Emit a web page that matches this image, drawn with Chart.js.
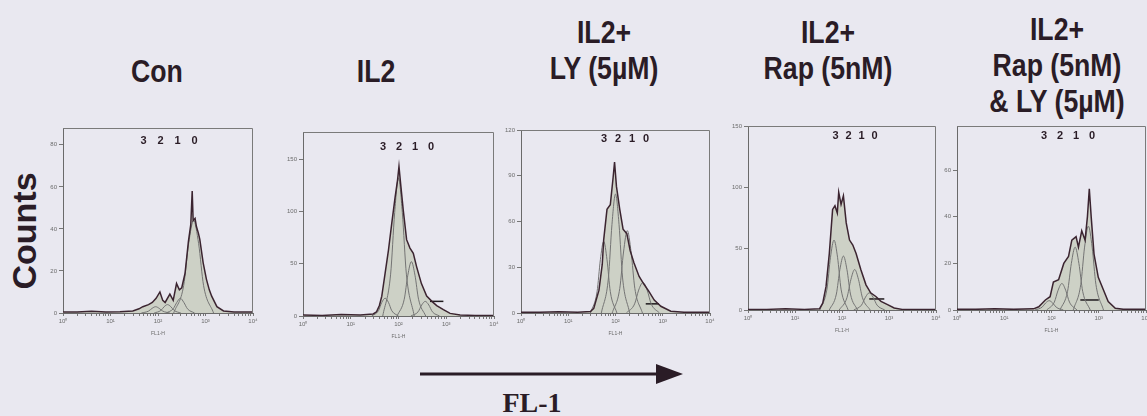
<!DOCTYPE html>
<html>
<head>
<meta charset="utf-8">
<script src="https://cdn.jsdelivr.net/npm/chart.js@4/dist/chart.umd.min.js"></script>
<style>
  body { margin: 0; background: #e9e8f0; width: 1147px; height: 416px; overflow: hidden; position: relative; font-family: 'Liberation Sans', Arial, sans-serif; }
  canvas { position: absolute; }
  .title { position: absolute; width: 220px; text-align: center; font-weight: bold; font-size: 31px; line-height: 36px; color: #2a1c26; transform: scaleX(0.86); white-space: nowrap; }
  #counts { position: absolute; left: 24px; top: 231px; font-weight: bold; font-size: 34px; color: #2a1c26; transform: translate(-50%, -50%) rotate(-90deg); white-space: nowrap; }
  #fl1 { position: absolute; left: 432px; width: 200px; top: 389px; text-align: center; font-family: 'Liberation Serif', 'Times New Roman', serif; font-weight: bold; font-size: 28px; line-height: 28px; color: #2a1c26; }
  svg { position: absolute; left: 0; top: 0; }
</style>
</head>
<body>
<div id="counts">Counts</div>
<div id="fl1">FL-1</div>
<svg width="1147" height="416"><line x1="420" y1="374" x2="664" y2="374" stroke="#2a1c26" stroke-width="3"/><polygon points="656,364 683,374 656,384" fill="#2a1c26"/></svg>
<script>
'use strict';

/* DATA */
const panelTitles = [['Con'], ['IL2'], ['IL2+', 'LY (5µM)'], ['IL2+', 'Rap (5nM)'], ['IL2+', 'Rap (5nM)', '& LY (5µM)']];
const decadeTicks = [0, 1, 2, 3, 4];
const decadeLabels = ['10⁰', '10¹', '10²', '10³', '10⁴'];
const countMax = [88, 176, 120, 150, 79];
const countStep = [20, 50, 30, 50, 20];
const genLabels = ['3', '2', '1', '0'];

// histogram outlines: x = log10 FL1-H, y = counts
const conLog = [0, 0.3, 0.6, 0.9, 1.2, 1.47, 1.6, 1.68, 1.8, 1.88, 1.96, 2.04, 2.1, 2.15, 2.25, 2.32, 2.39, 2.45, 2.5, 2.57, 2.64, 2.69, 2.72, 2.74, 2.78, 2.81, 2.85, 2.88, 2.95, 3.02, 3.08, 3.13, 3.24, 3.38, 3.6, 4];
const conCount = [0.5, 0.5, 0.8, 0.5, 0.6, 1, 2, 3, 4, 5, 7, 10, 6, 5, 9, 6, 14, 11, 12, 19, 34, 42, 58, 44, 45, 41, 38, 35, 24, 16, 11, 8, 3, 1, 0.5, 0.5];
const il2Log = [0, 0.4, 0.8, 1.2, 1.47, 1.54, 1.6, 1.65, 1.72, 1.79, 1.86, 1.93, 1.98, 2.01, 2.05, 2.1, 2.17, 2.24, 2.31, 2.38, 2.48, 2.59, 2.7, 2.8, 2.94, 3.08, 3.29, 3.6, 4];
const il2Count = [1, 0.5, 1.5, 1, 2, 4, 10, 19, 41, 63, 89, 114, 130, 143, 124, 101, 73, 65, 60, 47, 31, 19, 14, 10, 6, 2.5, 1, 0.5, 0.5];
const lyLog = [0, 0.4, 0.8, 1.2, 1.47, 1.54, 1.65, 1.72, 1.75, 1.82, 1.89, 1.95, 1.98, 2.02, 2.09, 2.16, 2.24, 2.31, 2.39, 2.5, 2.6, 2.71, 2.82, 2.96, 3.17, 3.45, 4];
const lyCount = [0.5, 0.5, 0.8, 0.5, 1, 3, 15, 32, 48, 68, 71, 89, 99, 83, 68, 55, 52, 41, 33, 24, 19, 14, 8.5, 4.4, 1.2, 0.5, 0.5];
const rapLog = [0, 0.4, 0.8, 1.2, 1.52, 1.59, 1.66, 1.73, 1.8, 1.85, 1.9, 1.93, 1.98, 2.03, 2.09, 2.16, 2.23, 2.3, 2.4, 2.51, 2.61, 2.72, 2.83, 2.97, 3.11, 3.28, 3.6, 4];
const rapCount = [0.5, 0.5, 1, 0.5, 1, 5.5, 19, 46, 82, 85, 79, 96, 86, 93, 71, 57, 53, 46, 33, 20.5, 14, 11, 7, 4.4, 1.6, 0.5, 0.5, 0.5];
const rapLyLog = [0, 0.4, 0.8, 1.2, 1.62, 1.73, 1.87, 1.97, 2.04, 2.15, 2.26, 2.36, 2.43, 2.52, 2.57, 2.64, 2.71, 2.76, 2.8, 2.84, 2.9, 2.99, 3.1, 3.2, 3.35, 3.52, 4];
const rapLyCount = [0.3, 0.3, 0.5, 0.3, 0.5, 1.4, 4.3, 5.7, 12, 13, 20, 23, 30, 31.5, 27, 34, 30, 40, 52, 40, 24, 14, 8.6, 3.6, 0.7, 0.3, 0.3];

// fitted generation peaks, one row per generation (3, 2, 1, 0)
const conGenLog = [[1.65, 1.8, 1.875, 1.95, 2.025, 2.1, 2.25], [1.92, 2.06, 2.13, 2.2, 2.27, 2.34, 2.48], [2.17, 2.32, 2.395, 2.47, 2.545, 2.62, 2.77], [2.33, 2.54, 2.645, 2.75, 2.855, 2.96, 3.17]];
const conGenCount = [[0, 0.9, 2.2, 3, 2.2, 0.9, 0], [0, 1.2, 3, 4, 3, 1.2, 0], [0, 2, 5, 7, 5, 2, 0], [0, 13, 33, 44, 33, 13, 0]];
const il2GenLog = [[1.44, 1.58, 1.65, 1.72, 1.79, 1.86, 2.0], [1.67, 1.835, 1.92, 2.0, 2.08, 2.165, 2.33], [1.97, 2.12, 2.195, 2.27, 2.345, 2.42, 2.57], [2.26, 2.41, 2.485, 2.56, 2.635, 2.71, 2.86]];
const il2GenCount = [[0, 5, 13, 17, 13, 5, 0], [0, 40, 99, 132, 99, 40, 0], [0, 16, 39, 52, 39, 16, 0], [0, 4, 10.5, 14, 10.5, 4, 0]];
const lyGenLog = [[1.47, 1.61, 1.68, 1.75, 1.82, 1.89, 2.03], [1.7, 1.85, 1.925, 2.0, 2.075, 2.15, 2.3], [1.93, 2.09, 2.17, 2.25, 2.33, 2.41, 2.57], [2.23, 2.405, 2.49, 2.58, 2.67, 2.755, 2.93]];
const lyGenCount = [[0, 14, 35, 47, 35, 14, 0], [0, 23, 58, 78, 58, 23, 0], [0, 16, 40, 54, 40, 16, 0], [0, 6, 15, 20, 15, 6, 0]];
const rapGenLog = [[1.53, 1.68, 1.755, 1.83, 1.905, 1.98, 2.13], [1.73, 1.88, 1.955, 2.03, 2.105, 2.18, 2.33], [1.94, 2.105, 2.19, 2.27, 2.35, 2.435, 2.6], [2.25, 2.415, 2.5, 2.58, 2.66, 2.745, 2.91]];
const rapGenCount = [[0, 17, 43, 57, 43, 17, 0], [0, 13, 33, 44, 33, 13, 0], [0, 10, 25, 33, 25, 10, 0], [0, 4, 10.5, 14, 10.5, 4, 0]];
const rapLyGenLog = [[1.65, 1.8, 1.875, 1.95, 2.025, 2.1, 2.25], [1.9, 2.06, 2.14, 2.22, 2.3, 2.38, 2.54], [2.18, 2.34, 2.42, 2.5, 2.58, 2.66, 2.82], [2.46, 2.62, 2.7, 2.78, 2.86, 2.94, 3.1]];
const rapLyGenCount = [[0, 1.2, 3, 4, 3, 1.2, 0], [0, 3.4, 8.5, 11.4, 8.5, 3.4, 0], [0, 8, 20, 27, 20, 8, 0], [0, 11, 27, 36, 27, 11, 0]];

// M1 marker bars: [from log, to log, count]
const markerBars = [null, [2.66, 2.94, 14], [2.64, 2.92, 6], [2.58, 2.9, 9], [2.61, 3.0, 4.3]];

const histLogs = [conLog, il2Log, lyLog, rapLog, rapLyLog];
const histCounts = [conCount, il2Count, lyCount, rapCount, rapLyCount];
const genLogs = [conGenLog, il2GenLog, lyGenLog, rapGenLog, rapLyGenLog];
const genCounts = [conGenCount, il2GenCount, lyGenCount, rapGenCount, rapLyGenCount];

/* LAYOUT */
const boxes = [
  { l: 63, t: 128, r: 253, b: 313 },
  { l: 303, t: 132, r: 494, b: 316 },
  { l: 521, t: 130, r: 710, b: 313 },
  { l: 748, t: 126, r: 936, b: 310 },
  { l: 957, t: 126, r: 1146, b: 310 },
];
const titleCenters = [157, 376, 604, 828, 1057];
const titleTops = [54, 54, 15, 15, 12];
const genLabelPos = [
  { fx: 0.558, dy: 13, gap: 17 },
  { fx: 0.545, dy: 15, gap: 16 },
  { fx: 0.55, dy: 9, gap: 14 },
  { fx: 0.57, dy: 10, gap: 13 },
  { fx: 0.587, dy: 10, gap: 16 },
];
const padL = 34, padT = 10, padR = 12, axisH = 24;

const minorTicks = [];
for (let d = 0; d < 4; d++) {
  for (let m = 1; m < 10; m++) minorTicks.push(d + Math.log10(m));
}
minorTicks.push(4);

function pts(xs, ys) {
  return xs.map((x, i) => ({ x: x, y: ys[i] }));
}

function addTitle(i) {
  const div = document.createElement('div');
  div.className = 'title';
  div.style.left = (titleCenters[i] - 110) + 'px';
  div.style.top = titleTops[i] + 'px';
  div.innerHTML = panelTitles[i].join('<br>');
  document.body.appendChild(div);
}

function makePanel(i) {
  const box = boxes[i];
  const w = box.r - box.l + padL + padR;
  const h = box.b - box.t + padT + axisH;
  const cv = document.createElement('canvas');
  cv.width = w; cv.height = h;
  cv.style.width = w + 'px'; cv.style.height = h + 'px';
  cv.style.left = (box.l - padL) + 'px';
  cv.style.top = (box.t - padT) + 'px';
  document.body.appendChild(cv);

  const hist = pts(histLogs[i], histCounts[i]);
  const datasets = [
    { data: hist, borderColor: '#3b2430', borderWidth: 1.5, fill: false, pointRadius: 0, tension: 0 },
  ];
  genLogs[i].forEach((g, k) => {
    datasets.push({
      data: pts(g, genCounts[i][k]),
      borderColor: '#747474', borderWidth: 1, fill: false, pointRadius: 0,
      cubicInterpolationMode: 'monotone'
    });
  });
  const m = markerBars[i];
  if (m) {
    datasets.push({ data: [{ x: m[0], y: m[2] }, { x: m[1], y: m[2] }], borderColor: '#1f1a1d', borderWidth: 1.5, pointRadius: 0, fill: false });
  }
  datasets.push({ data: hist, borderWidth: 0, backgroundColor: '#cdd1c6', fill: 'origin', pointRadius: 0, tension: 0 });

  const pos = genLabelPos[i];
  const framePlugin = {
    id: 'frame' + i,
    afterDraw(chart) {
      const a = chart.chartArea;
      const ctx = chart.ctx;
      ctx.save();
      ctx.strokeStyle = '#7a7a7a';
      ctx.lineWidth = 1;
      ctx.beginPath();
      ctx.moveTo(a.left, a.top + 0.5);
      ctx.lineTo(a.right - 0.5, a.top + 0.5);
      ctx.lineTo(a.right - 0.5, a.bottom);
      ctx.stroke();
      // generation labels
      ctx.fillStyle = '#2a1c26';
      ctx.font = 'bold 11px "Liberation Sans", Arial, sans-serif';
      ctx.textAlign = 'center';
      ctx.textBaseline = 'middle';
      const cx = a.left + pos.fx * a.width;
      genLabels.forEach((g, k) => {
        ctx.fillText(g, cx + (k - 1.5) * pos.gap, a.top + pos.dy);
      });
      ctx.restore();
    }
  };

  new Chart(cv, {
    type: 'line',
    data: { datasets: datasets },
    options: {
      responsive: false,
      animation: false,
      layout: { padding: { top: padT, right: padR, left: 0, bottom: 0 } },
      plugins: { legend: { display: false }, tooltip: { enabled: false } },
      scales: {
        x: {
          type: 'linear', min: 0, max: 4,
          afterBuildTicks: s => { s.ticks = minorTicks.map(v => ({ value: v })); },
          afterFit: s => { s.height = axisH; },
          ticks: {
            autoSkip: false, maxRotation: 0, padding: 2, color: '#6b6b6b',
            font: { size: 6 },
            callback: v => {
              const k = decadeTicks.indexOf(v);
              return k < 0 ? '' : decadeLabels[k];
            }
          },
          grid: { drawOnChartArea: false, tickLength: 3, color: '#777' },
          border: { color: '#6a6a6a' },
          title: { display: true, text: 'FL1-H', color: '#6b6b6b', font: { size: 5 }, padding: 0 }
        },
        y: {
          min: 0, max: countMax[i],
          afterBuildTicks: s => { s.ticks = s.ticks.filter(t => t.value % countStep[i] === 0); },
          afterFit: s => { s.width = padL; },
          ticks: { stepSize: countStep[i], padding: 2, color: '#6b6b6b', font: { size: 6 } },
          grid: { drawOnChartArea: false, tickLength: 4, color: '#777' },
          border: { color: '#6a6a6a' }
        }
      }
    },
    plugins: [framePlugin]
  });
}

for (let i = 0; i < boxes.length; i++) {
  addTitle(i);
  makePanel(i);
}
</script>
</body>
</html>
